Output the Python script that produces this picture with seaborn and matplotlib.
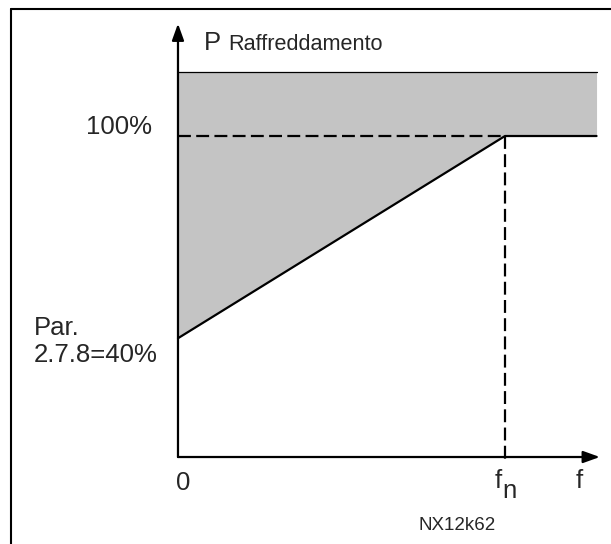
import matplotlib
matplotlib.use("Agg")
import matplotlib.pyplot as plt
from matplotlib.lines import Line2D
import seaborn as sns
import pandas as pd

# curve of minimum cooling power vs frequency (f / fn)
freq = [0.0, 1.0, 1.28]
p_min = [37.0, 100.0, 100.0]
p_top = 120.0          # upper edge of shaded area
f_axis_end = 1.29
p_axis_end = 135.0

sns.set_style("white")
plt.rcParams['font.family'] = ['Liberation Sans', 'DejaVu Sans']

fig = plt.figure(figsize=(6.11, 5.44), dpi=100)
ax = fig.add_axes([0, 0, 1, 1])
ax.set_xlim(-0.5443, 1.3242)
ax.set_ylim(-27.1, 142.37)
ax.axis('off')

df = pd.DataFrame({'f': freq, 'p': p_min})

# shaded allowed region
ax.fill_between(freq, p_min, p_top, color='#c4c4c4', lw=0)
ax.plot([freq[0], freq[-1]], [p_top, p_top], color='black', lw=0.9)

# curve
sns.lineplot(data=df, x='f', y='p', color='black', lw=1.6, ax=ax)

# dashed guides
dash = (0, (5.8, 2.4))
ax.plot([0, freq[1]], [p_min[1], p_min[1]], color='black', lw=1.6, ls=dash)
ax.plot([freq[1], freq[1]], [p_min[1], -2], color='black', lw=1.6, ls=dash)

# axes with arrows
arr = dict(arrowstyle='-|>,head_length=0.5,head_width=0.18', mutation_scale=20,
           lw=1.6, color='black', shrinkA=0, shrinkB=0)
ax.annotate('', xy=(0, p_axis_end), xytext=(0, 0), arrowprops=arr)
ax.annotate('', xy=(f_axis_end, 0), xytext=(0, 0), arrowprops=arr)

# labels
fs = 18.5
ax.text(0.0795, 126.8, 'P', fontsize=fs, va='baseline')
ax.text(0.153, 126.8, 'Raffreddamento', fontsize=15.6, va='baseline')
ax.text(-0.0795, 100.6, '100%', fontsize=fs, ha='right', va='baseline')
ax.text(-0.440, 38.0, 'Par.', fontsize=fs, va='baseline')
ax.text(-0.440, 29.6, '2.7.8=40%', fontsize=fs, va='baseline')
ax.text(0.015, -10.3, '0', fontsize=fs, ha='center', va='baseline')
ax.text(0.969, -9.66, 'f', fontsize=fs, va='baseline')
ax.text(0.991, -12.8, 'n', fontsize=fs, va='baseline')
ax.text(1.217, -9.66, 'f', fontsize=fs, va='baseline')
ax.text(0.734, -22.7, 'NX12k62', fontsize=13.5, va='baseline')

# frame (top and left edges)
fig.add_artist(Line2D([0.018, 1.0], [0.9835, 0.9835], color='black', lw=1.5))
fig.add_artist(Line2D([0.018, 0.018], [0.0, 0.9835], color='black', lw=1.5))

fig.savefig('out.png', dpi=100)
